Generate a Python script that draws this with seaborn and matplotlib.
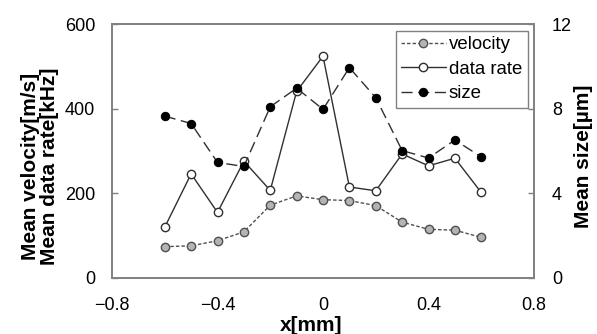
import numpy as np
import pandas as pd
import seaborn as sns
import matplotlib.pyplot as plt

# dados
x_mm = [-0.6, -0.5, -0.4, -0.3, -0.2, -0.1, 0.0, 0.1, 0.2, 0.3, 0.4, 0.5, 0.6]
velocity = [74, 76, 88, 109, 172, 194, 185, 183, 171, 132, 115, 113, 96]
data_rate = [120, 246, 155, 276, 207, 441, 524, 215, 206, 293, 265, 283, 202]
size = [7.65, 7.3, 5.46, 5.27, 8.09, 8.97, 7.97, 9.94, 8.52, 6.02, 5.67, 6.52, 5.72]

xticks = [-0.8, -0.4, 0, 0.4, 0.8]
xticklabels = ['\u22120.8', '\u22120.4', '0', '0.4', '0.8']

df = pd.DataFrame({'x': x_mm, 'velocity': velocity, 'data rate': data_rate, 'size': size})

sns.set_style('white')
plt.rcParams['font.family'] = ['Liberation Sans', 'DejaVu Sans']
plt.rcParams['axes.labelcolor'] = 'black'
plt.rcParams['text.color'] = 'black'

fig, ax = plt.subplots(figsize=(5.97, 3.34), dpi=100)
fig.subplots_adjust(left=0.1876, right=0.8945, top=0.928, bottom=0.1677)
ax2 = ax.twinx()

cor_linha = '#303030'
ms = 6
sns.lineplot(data=df, x='x', y='velocity', ax=ax, color='#505050', lw=1.0,
             linestyle=(0, (2.5, 1.5)), marker='o', markersize=ms,
             markerfacecolor='#b4b4b4', markeredgecolor='#505050', markeredgewidth=1.0,
             label='velocity', legend=False)
sns.lineplot(data=df, x='x', y='data rate', ax=ax, color=cor_linha, lw=1.0,
             marker='o', markersize=ms, markerfacecolor='white',
             markeredgecolor=cor_linha, markeredgewidth=1.0,
             label='data rate', legend=False)
sns.lineplot(data=df, x='x', y='size', ax=ax2, color=cor_linha, lw=1.0,
             linestyle=(0, (8, 4)), marker='o', markersize=ms,
             markerfacecolor='black', markeredgecolor='black',
             label='size', legend=False)

ax.set_xlim(-0.8, 0.8)
ax.set_ylim(0, 600)
ax2.set_ylim(0, 12)
ax.set_xticks(xticks)
ax.set_xticklabels(xticklabels)
ax.set_yticks([0, 200, 400, 600])
ax2.set_yticks([0, 4, 8, 12])

for a in (ax, ax2):
    for s in a.spines.values():
        s.set_color('#808080')
        s.set_linewidth(1.2)
    a.tick_params(direction='in', length=4, width=1, color='#808080',
                  labelsize=13, labelcolor='black')
ax.tick_params(axis='x', pad=13.4)
ax.tick_params(axis='y', pad=12.2, left=True, right=False)
ax2.tick_params(axis='y', pad=13, right=True, left=False)

ax.set_xlabel('x[mm]', fontsize=15, fontweight='bold')
ax.xaxis.set_label_coords(0.4716, -0.1496)
ax.set_ylabel('Mean velocity[m/s]\nMean data rate[kHz]', fontsize=15,
              fontweight='bold', linespacing=1.0)
ax.yaxis.set_label_coords(-0.1245, 0.441)
ax2.set_ylabel('Mean size[\u00b5m]', fontsize=15, fontweight='bold')
ax2.yaxis.set_label_coords(1.0948, 0.478)

h1, l1 = ax.get_legend_handles_labels()
h2, l2 = ax2.get_legend_handles_labels()
leg = ax2.legend(h1 + h2, l1 + l2, loc='upper right', fontsize=13.4, frameon=True,
                 fancybox=False, framealpha=1, edgecolor='#808080',
                 handlelength=2.4, handletextpad=0.15, borderpad=0.3,
                 labelspacing=0.4, borderaxespad=0.35)
leg.get_frame().set_linewidth(1.0)

plt.savefig('out.png', dpi=100)
